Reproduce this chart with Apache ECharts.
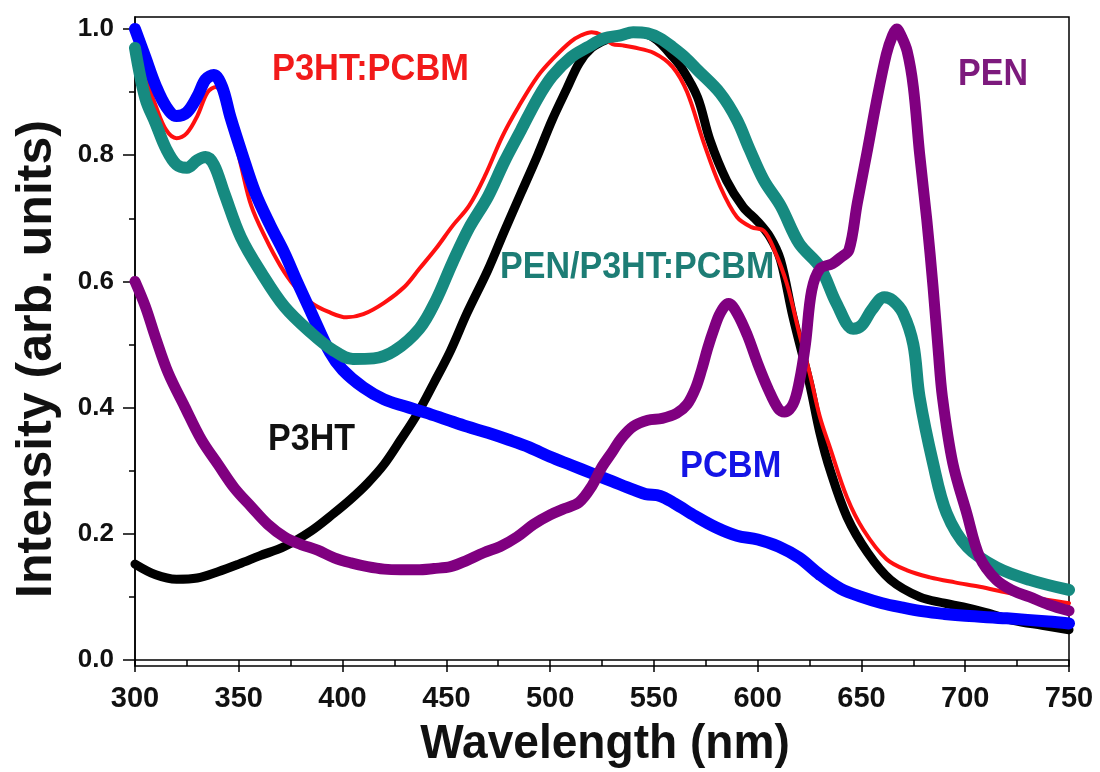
<!DOCTYPE html>
<html><head><meta charset="utf-8">
<script src="https://cdn.jsdelivr.net/npm/echarts@6/dist/echarts.min.js"></script>
<style>html,body{margin:0;padding:0;background:#fff}#c{width:1100px;height:772px}</style>
</head><body><div id="c"></div>
<script>
// ---- data (wavelength nm, intensity arb. units) ----
var p3htX = [300,310,320,330,340,350,360,372,385,396,404,412,420,428,436,444,452,460,470,478,486,494,501,508,514,520,527,535,542,548,553,558,563,571,577,585,593,600,606,611,617,625,630,635,643,653,664,678,690,699,710,723,737,750];
var p3htY = [0.152,0.135,0.128,0.13,0.14,0.152,0.165,0.18,0.205,0.233,0.255,0.28,0.31,0.349,0.39,0.439,0.49,0.55,0.618,0.68,0.74,0.80,0.856,0.905,0.946,0.97,0.983,0.99,0.994,0.99,0.978,0.96,0.94,0.892,0.824,0.76,0.718,0.695,0.67,0.634,0.544,0.438,0.36,0.30,0.227,0.17,0.127,0.1,0.09,0.084,0.075,0.063,0.055,0.048];

var blendX = [300,305,310,315,320,325,330,335,339,343,347,351,356,363,370,377,385,393,402,410,420,430,437,445,453,461,469,477,485,494,502,510,515,520,525,530,535,540,550,559,566,574,582,590,597,603,608,614,620,625,630,635,643,651,662,672,683,695,707,720,731,740,750];
var blendY = [0.975,0.925,0.878,0.84,0.827,0.835,0.862,0.9,0.908,0.885,0.84,0.785,0.72,0.668,0.625,0.592,0.566,0.552,0.543,0.548,0.566,0.592,0.62,0.652,0.688,0.72,0.77,0.83,0.878,0.925,0.955,0.98,0.99,0.995,0.99,0.976,0.974,0.971,0.962,0.94,0.9,0.82,0.75,0.702,0.686,0.68,0.65,0.597,0.518,0.455,0.385,0.335,0.258,0.206,0.16,0.142,0.131,0.123,0.116,0.107,0.1,0.095,0.09];

var pcbmX = [300,305,310,315,320,325,330,334,338,342,346,351.5,358,365,372,378,385,394,400,410,420,430,440,450,460,470,480,490,500,510,520,530,540,546,553,560,570,580,590,600,610,620,630,640,650,660,670,680,690,700,720,740,750];
var pcbmY = [1.0,0.955,0.91,0.877,0.862,0.868,0.893,0.92,0.927,0.908,0.86,0.803,0.74,0.69,0.645,0.6,0.55,0.487,0.46,0.432,0.413,0.402,0.392,0.381,0.37,0.36,0.349,0.337,0.322,0.309,0.296,0.283,0.27,0.263,0.26,0.248,0.228,0.21,0.197,0.191,0.18,0.162,0.135,0.113,0.1,0.09,0.083,0.077,0.073,0.07,0.066,0.061,0.058];

var penBlendX = [300,305,310,315,320,325,330,334,338,343,351,361,372,385,395,405,415,425,437,445,453,461,470,478,486,494,501,510,518,526,534,540,547,553,559,565,571,582,590,596,603,611,620,630,638,646,650,655,661,665,670,675,678,684.5,691,701,715,731,750];
var penBlendY = [0.97,0.89,0.85,0.81,0.785,0.78,0.792,0.797,0.785,0.74,0.67,0.613,0.56,0.518,0.492,0.477,0.478,0.49,0.525,0.57,0.63,0.685,0.734,0.79,0.84,0.89,0.925,0.955,0.971,0.985,0.99,0.995,0.993,0.985,0.971,0.955,0.935,0.898,0.856,0.81,0.76,0.72,0.66,0.623,0.565,0.525,0.53,0.555,0.575,0.57,0.55,0.5,0.417,0.312,0.233,0.179,0.147,0.127,0.111];

var penX = [300,305,310,316,324,332,340,348,356,364,372,380,388,396,404,412,420,428,436,444,452,460,468,476,484,492,500,507,514,520,525,530,534,540,547,554,561,566,570,573,576,579,582,586,590,595,600,605,610,613,617,620,623,626,630,636,640,644,648,652.6,657,662,665,667,669,672,675,678,681.5,684.5,687,689,694,700.7,707,715,723,731,740,750];
var penY = [0.6,0.56,0.51,0.455,0.401,0.349,0.31,0.272,0.243,0.215,0.195,0.183,0.174,0.162,0.154,0.148,0.144,0.143,0.143,0.145,0.148,0.158,0.17,0.18,0.195,0.215,0.23,0.24,0.25,0.275,0.306,0.33,0.35,0.37,0.38,0.383,0.391,0.405,0.43,0.46,0.495,0.525,0.55,0.565,0.55,0.515,0.47,0.43,0.398,0.393,0.405,0.44,0.5,0.585,0.62,0.628,0.638,0.65,0.724,0.803,0.881,0.96,0.99,1.0,0.99,0.965,0.908,0.803,0.697,0.591,0.49,0.417,0.312,0.233,0.163,0.127,0.11,0.1,0.088,0.078];

var yLabelVals = [0, 0.2, 0.4, 0.6, 0.8, 1.0];
var yMinorVals = [0.1, 0.3, 0.5, 0.7, 0.9];

function pairs(xs, ys){ return xs.map(function(x,i){ return [x, ys[i]]; }); }

var chart = echarts.init(document.getElementById('c'), null, {renderer:'canvas'});
var font = 'Liberation Sans, Arial, sans-serif';
var yMin = -0.0095, yMax = 1.019;

function line(name, xs, ys, color, w, z){
  return {name:name, type:'line', data:pairs(xs,ys), showSymbol:false, symbol:'none',
    smooth:0.35, clip:false, z:z, lineStyle:{color:color, width:w, cap:'round', join:'round'}};
}

chart.setOption({
  animation:false,
  backgroundColor:'#fff',
  grid:{left:135, right:31, top:17, bottom:106, show:true, borderColor:'#000', borderWidth:1.5},
  xAxis:{type:'value', min:300, max:750, interval:50,
    axisLine:{lineStyle:{color:'#000', width:1.5}},
    axisTick:{show:true, inside:false, length:12, lineStyle:{color:'#000', width:1.5}},
    minorTick:{show:true, splitNumber:2, length:6, lineStyle:{color:'#000', width:1.5}},
    splitLine:{show:false},
    axisLabel:{color:'#111', fontFamily:font, fontWeight:'bold', fontSize:29, margin:18}
  },
  yAxis:[{type:'value', min:yMin, max:yMax,
    axisLine:{show:true, lineStyle:{color:'#000', width:1.5}},
    axisTick:{show:true, length:12, customValues:yLabelVals, lineStyle:{color:'#000', width:1.5}},
    splitLine:{show:false},
    axisLabel:{customValues:yLabelVals, color:'#111', fontFamily:font, fontWeight:'bold', fontSize:26, margin:21,
      formatter:function(v){ return v.toFixed(1); }}
  },{type:'value', min:yMin, max:yMax, position:'left',
    axisLine:{show:false},
    axisTick:{show:true, length:6, customValues:yMinorVals, lineStyle:{color:'#000', width:1.5}},
    splitLine:{show:false},
    axisLabel:{show:false}
  }],
  series:[
    line('P3HT', p3htX, p3htY, '#000000', 9, 1),
    line('P3HT:PCBM', blendX, blendY, '#ff1010', 4, 2),
    line('PCBM', pcbmX, pcbmY, '#0000ff', 12, 3),
    line('PEN/P3HT:PCBM', penBlendX, penBlendY, '#168a80', 12, 4),
    line('PEN', penX, penY, '#800080', 11, 5)
  ],
  graphic:[
    {type:'text', x:272, y:70, scaleX:0.93, style:{text:'P3HT:PCBM', fill:'#f21a1a', font:'bold 37px '+font, textAlign:'left', textVerticalAlign:'middle'}},
    {type:'text', x:958, y:75, scaleX:0.92, style:{text:'PEN', fill:'#7d1a7d', font:'bold 37px '+font, textAlign:'left', textVerticalAlign:'middle'}},
    {type:'text', x:500, y:268, scaleX:0.92, style:{text:'PEN/P3HT:PCBM', fill:'#1d7d75', font:'bold 37px '+font, textAlign:'left', textVerticalAlign:'middle'}},
    {type:'text', x:268, y:440, scaleX:0.92, style:{text:'P3HT', fill:'#111', font:'bold 37px '+font, textAlign:'left', textVerticalAlign:'middle'}},
    {type:'text', x:680, y:467, scaleX:0.93, style:{text:'PCBM', fill:'#1414e6', font:'bold 37px '+font, textAlign:'left', textVerticalAlign:'middle'}},
    {type:'text', x:605, y:745, scaleX:0.96, style:{text:'Wavelength (nm)', fill:'#111', font:'bold 48px '+font, textAlign:'center', textVerticalAlign:'middle'}},
    {type:'text', x:37, y:359, rotation:Math.PI/2, scaleX:1.0, style:{text:'Intensity (arb. units)', fill:'#111', font:'bold 50px '+font, textAlign:'center', textVerticalAlign:'middle'}}
  ]
});
</script></body></html>
